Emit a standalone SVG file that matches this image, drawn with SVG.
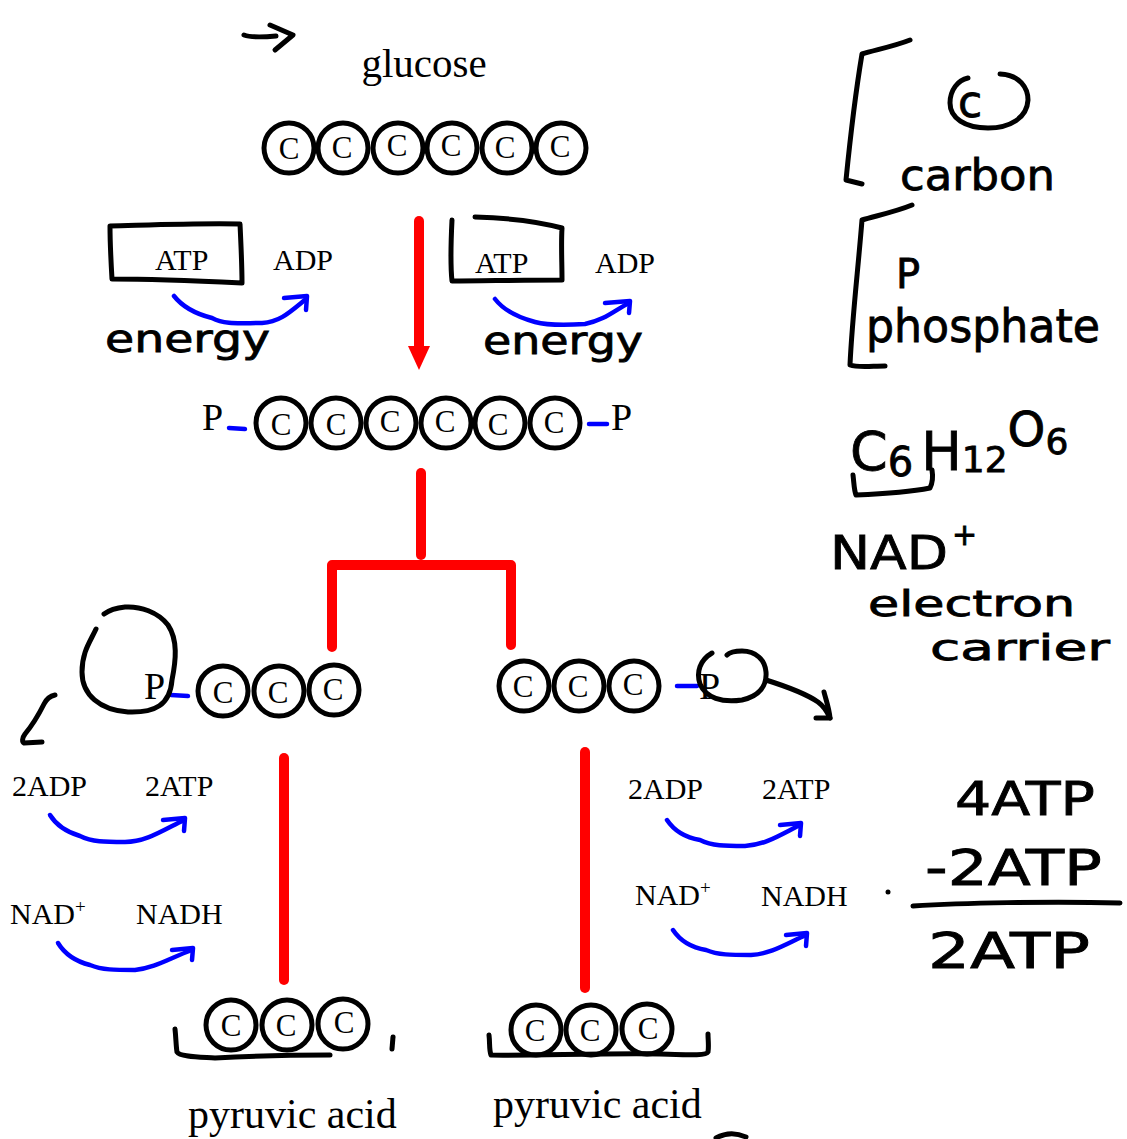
<svg xmlns="http://www.w3.org/2000/svg" width="1127" height="1139" viewBox="0 0 1127 1139">
<style>
.bg{fill:#fff}
.atom{fill:#fff;stroke:#000;stroke-width:5}
.c{font-family:"Liberation Serif","Times New Roman",serif;font-size:31px;text-anchor:middle;fill:#000}
.t{font-family:"Liberation Serif","Times New Roman",serif;fill:#000}
.hand{fill:none;stroke:#000;stroke-width:5;stroke-linecap:round;stroke-linejoin:round}
.hw{font-family:"DejaVu Sans","Noto Sans",sans-serif;fill:#000;stroke:#000;stroke-width:0.8}
.blue{fill:none;stroke:#0000ff;stroke-width:4.5;stroke-linecap:round;stroke-linejoin:round}
.red{fill:none;stroke:#ff0000;stroke-width:10;stroke-linecap:round;stroke-linejoin:round}
</style>
<rect class="bg" width="1127" height="1139"/>

<g id="connectors">
  <path class="red" d="M419,221 V350"/>
  <polygon points="408,346 430,346 419,370" fill="#ff0000"/>
  <path class="red" d="M421,473 V555"/>
  <path class="red" d="M332,647 V565 H511 V645"/>
  <path class="red" d="M284,758 V980"/>
  <path class="red" d="M585,752 V988"/>
  <path class="blue" d="M174,296 C185,310 200,315 212,318 C225,325 240,323 262,323 C280,322 290,312 306,299"/>
  <path class="blue" d="M284,298 L307,296 L306,310"/>
  <path class="blue" d="M495,299 C505,312 520,318 535,322 C550,326 570,325 585,324 C605,320 615,310 629,303"/>
  <path class="blue" d="M605,303 L630,301 L629,313"/>
  <path class="blue" d="M229,428 L245,429"/>
  <path class="blue" d="M589,424 L607,424"/>
  <path class="blue" d="M171,695 L188,696"/>
  <path class="blue" d="M677,686 L697,686"/>
  <path class="blue" d="M50,815 C58,828 70,833 80,836 C92,842 105,842 125,842 C145,842 160,832 184,820"/>
  <path class="blue" d="M163,820 L185,818 L184,831"/>
  <path class="blue" d="M58,943 C66,956 78,962 90,965 C102,970 115,970 135,970 C155,968 170,958 192,950"/>
  <path class="blue" d="M172,950 L193,948 L192,960"/>
  <path class="blue" d="M667,820 C675,832 688,838 700,840 C712,846 725,846 745,846 C765,845 780,835 800,825"/>
  <path class="blue" d="M780,825 L801,823 L800,836"/>
  <path class="blue" d="M673,930 C681,942 694,948 706,950 C718,955 731,955 751,955 C771,954 786,944 806,935"/>
  <path class="blue" d="M786,935 L807,933 L806,946"/>
</g>

<g id="top-arrow">
  <path class="hand" d="M244,35 C252,38 265,37 276,36"/>
  <path class="hand" d="M270,25 L293,35 L275,50"/>
</g>

<g id="glucose">
  <text class="t" x="424" y="77" font-size="41" text-anchor="middle">glucose</text>
  <circle class="atom" cx="289" cy="148" r="25"/><text class="c" x="289" y="159">C</text>
  <circle class="atom" cx="343" cy="148" r="25"/><text class="c" x="342" y="158">C</text>
  <circle class="atom" cx="398" cy="148" r="25"/><text class="c" x="397" y="156">C</text>
  <circle class="atom" cx="452" cy="148" r="25"/><text class="c" x="451" y="156">C</text>
  <circle class="atom" cx="507" cy="148" r="25"/><text class="c" x="505" y="158">C</text>
  <circle class="atom" cx="561" cy="148" r="25"/><text class="c" x="560" y="157">C</text>
</g>

<g id="atp-left">
  <path class="hand" d="M110,226 C150,225 200,223 240,224 C241,245 242,265 242,283 C200,281 150,279 112,279 C111,262 110,245 110,226"/>
  <text class="t" x="155" y="270" font-size="30">ATP</text>
  <text class="t" x="273" y="270" font-size="30">ADP</text>
  <text class="hw" x="105" y="352" font-size="38" textLength="165" lengthAdjust="spacingAndGlyphs">energy</text>
</g>

<g id="atp-right">
  <path class="hand" d="M452,220 C451,240 450,262 452,281 C480,281 520,280 562,280 C562,262 561,245 562,228 C540,222 510,218 475,217"/>
  <text class="t" x="475" y="273" font-size="30">ATP</text>
  <text class="t" x="595" y="273" font-size="30">ADP</text>
  <text class="hw" x="483" y="354" font-size="38" textLength="160" lengthAdjust="spacingAndGlyphs">energy</text>
</g>

<g id="fructose-bisphosphate">
  <text class="t" x="202" y="430" font-size="38">P</text>
  <circle class="atom" cx="281" cy="423" r="25"/><text class="c" x="281" y="435">C</text>
  <circle class="atom" cx="336" cy="423" r="25"/><text class="c" x="336" y="435">C</text>
  <circle class="atom" cx="391" cy="423" r="25"/><text class="c" x="390" y="432">C</text>
  <circle class="atom" cx="446" cy="423" r="25"/><text class="c" x="445" y="432">C</text>
  <circle class="atom" cx="500" cy="423" r="25"/><text class="c" x="498" y="435">C</text>
  <circle class="atom" cx="555" cy="423" r="25"/><text class="c" x="554" y="433">C</text>
  <text class="t" x="611" y="430" font-size="38">P</text>
</g>

<g id="g3p-left">
  <path class="hand" d="M96,629 C90,642 82,652 82,672 C82,695 100,710 128,712 C155,713 170,705 172,680 C176,660 178,640 168,625 C158,612 140,606 125,607 C115,608 108,611 104,614"/>
  <text class="t" x="144" y="699" font-size="38">P</text>
  <circle class="atom" cx="223" cy="691" r="25"/><text class="c" x="223" y="703">C</text>
  <circle class="atom" cx="279" cy="691" r="25"/><text class="c" x="278" y="703">C</text>
  <circle class="atom" cx="334" cy="690" r="25"/><text class="c" x="333" y="700">C</text>
  <path class="hand" d="M55,695 C50,696 47,698 44,704 C38,716 30,728 25,734 C22,738 22,742 24,743 L42,742"/>
</g>

<g id="g3p-right">
  <circle class="atom" cx="524" cy="686" r="25"/><text class="c" x="523" y="697">C</text>
  <circle class="atom" cx="579" cy="686" r="25"/><text class="c" x="578" y="697">C</text>
  <circle class="atom" cx="634" cy="686" r="25"/><text class="c" x="633" y="695">C</text>
  <text class="t" x="699" y="699" font-size="38">P</text>
  <path class="hand" d="M712,653 C700,660 696,672 700,684 C706,698 722,703 742,700 C760,696 767,685 766,672 C765,660 756,651 742,651 C735,651 730,652 727,655"/>
  <path class="hand" d="M766,680 C785,686 805,693 818,702 C826,708 828,714 830,718"/>
  <path class="hand" d="M824,692 C826,700 829,708 830,718 L816,718"/>
</g>

<g id="left-products">
  <text class="t" x="12" y="796" font-size="30">2ADP</text>
  <text class="t" x="145" y="796" font-size="30">2ATP</text>
  <text class="t" x="10" y="924" font-size="30">NAD<tspan font-size="19" dy="-11">+</tspan></text>
  <text class="t" x="136" y="924" font-size="30">NADH</text>
</g>

<g id="right-products">
  <text class="t" x="628" y="799" font-size="30">2ADP</text>
  <text class="t" x="762" y="799" font-size="30">2ATP</text>
  <text class="t" x="635" y="905" font-size="30">NAD<tspan font-size="19" dy="-11">+</tspan></text>
  <text class="t" x="761" y="906" font-size="30">NADH</text>
</g>

<g id="pyruvate-left">
  <circle class="atom" cx="231" cy="1025" r="25"/><text class="c" x="231" y="1036">C</text>
  <circle class="atom" cx="287" cy="1025" r="25"/><text class="c" x="286" y="1036">C</text>
  <circle class="atom" cx="343" cy="1024" r="25"/><text class="c" x="344" y="1033">C</text>
  <path class="hand" d="M175,1029 C176,1038 176,1046 177,1052 C180,1057 200,1057 215,1058 C250,1056 290,1055 330,1055"/>
  <path class="hand" d="M393,1037 L392,1049"/>
  <text class="t" x="188" y="1128" font-size="42">pyruvic acid</text>
</g>

<g id="pyruvate-right">
  <circle class="atom" cx="536" cy="1030" r="25"/><text class="c" x="535" y="1041">C</text>
  <circle class="atom" cx="591" cy="1030" r="25"/><text class="c" x="590" y="1041">C</text>
  <circle class="atom" cx="647" cy="1029" r="25"/><text class="c" x="648" y="1039">C</text>
  <path class="hand" d="M489,1035 C490,1043 489,1050 491,1055 C530,1056 600,1053 660,1054 C690,1055 706,1056 708,1052 C709,1046 708,1040 708,1034"/>
  <text class="t" x="493" y="1118" font-size="42">pyruvic acid</text>
  <path class="hand" d="M716,1138 C725,1133 735,1132 746,1137"/>
</g>

<g id="note-carbon">
  <path class="hand" d="M910,40 C895,46 875,50 862,54 C856,90 850,140 846,180 L862,184"/>
  <path class="hand" d="M1000,74 C1020,75 1028,88 1028,100 C1027,118 1010,128 988,128 C965,128 950,118 950,103 C950,90 958,80 968,78"/>
  <text class="hw" x="958" y="117" font-size="44">c</text>
  <text class="hw" x="900" y="190" font-size="42" textLength="155" lengthAdjust="spacingAndGlyphs">carbon</text>
</g>

<g id="note-phosphate">
  <path class="hand" d="M912,205 C895,212 875,216 862,220 C858,270 852,320 850,365 C858,368 872,366 885,366"/>
  <text class="hw" x="896" y="288" font-size="40">P</text>
  <text class="hw" x="866" y="342" font-size="46" textLength="234" lengthAdjust="spacingAndGlyphs">phosphate</text>
</g>

<g id="note-formula">
  <text class="hw" x="850" y="470" font-size="54">C<tspan font-size="40" dy="6">6</tspan><tspan font-size="54" dy="-6" dx="8">H</tspan><tspan font-size="36" dy="2">12</tspan><tspan font-size="48" dy="-26">O</tspan><tspan font-size="36" dy="8">6</tspan></text>
  <path class="hand" d="M853,475 C854,483 854,490 856,495 C880,494 910,492 930,488 C933,482 933,476 932,470"/>
</g>

<g id="note-nad">
  <text class="hw" x="830" y="569" font-size="46" textLength="118" lengthAdjust="spacingAndGlyphs">NAD</text>
  <text class="hw" x="952" y="545" font-size="30">+</text>
  <text class="hw" x="868" y="616" font-size="36" textLength="207" lengthAdjust="spacingAndGlyphs">electron</text>
  <text class="hw" x="930" y="660" font-size="36" textLength="180" lengthAdjust="spacingAndGlyphs">carrier</text>
</g>

<g id="note-atp-sum">
  <circle cx="888" cy="892" r="2.5" fill="#000"/>
  <text class="hw" x="955" y="815" font-size="46" textLength="140" lengthAdjust="spacingAndGlyphs">4ATP</text>
  <text class="hw" x="925" y="885" font-size="50" textLength="177" lengthAdjust="spacingAndGlyphs">-2ATP</text>
  <path class="hand" d="M913,906 C960,903 1050,901 1120,903"/>
  <text class="hw" x="928" y="968" font-size="50" textLength="162" lengthAdjust="spacingAndGlyphs">2ATP</text>
</g>
</svg>
